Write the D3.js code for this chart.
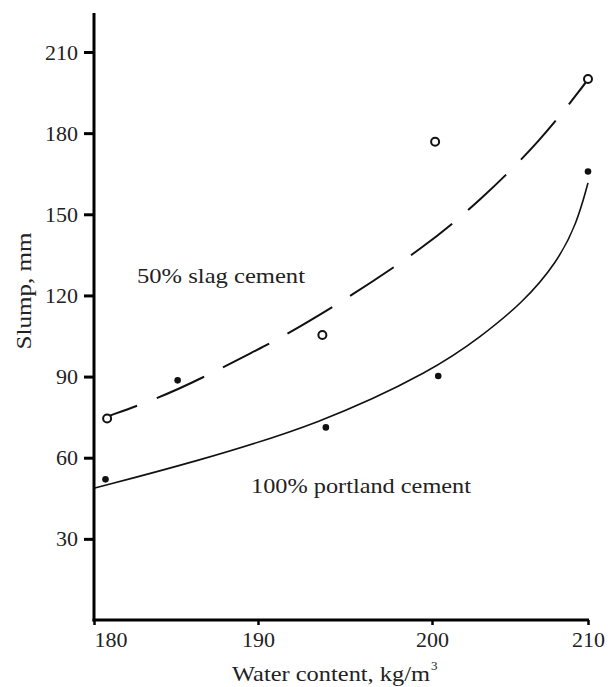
<!DOCTYPE html>
<html>
<head>
<meta charset="utf-8">
<script src="https://cdn.jsdelivr.net/npm/d3@7"></script>
<style>
  body { margin: 0; background: #fff; }
  svg { display: block; }
  text { font-family: "Liberation Serif", "Times New Roman", serif; fill: #222; }
</style>
</head>
<body>
<svg id="chart" width="608" height="687"></svg>
<script>
// tick labels
var xTicks = [180, 190, 200, 210];
var yTicks = [30, 60, 90, 120, 150, 180, 210];

// measured points, [water content, slump]
var slagOpen = [[180.8, 74.5], [193.7, 105.4], [200.2, 176.8], [210, 200]];
var slagFilled = [[185.1, 88.6]];
var portland = [[180.7, 52], [193.9, 71.2], [200.4, 90.2], [210, 165.8]];

// fitted curves
var slagCurve = [[180.8, 75.2], [183.8, 81.7], [186.5, 89.1], [189.9, 99.8], [191.2, 103.9],
                 [194.9, 117.9], [199.6, 137.9], [203.2, 155.6], [207.0, 177.4], [209.8, 198.2], [210, 200]];
var portlandCurve = [[180.05, 48.8], [186, 58.2], [193.6, 72.5], [200.1, 92.4],
                     [203.1, 104.6], [205.8, 117.2], [208.0, 132.0],
                     [209.3, 146.8], [210, 161.6]];

var svg = d3.select('#chart');

// the scanned figure is not evenly spaced, so the x scale is piecewise
var x = d3.scaleLinear().domain(xTicks).range([94, 258, 432, 588]);
var y = d3.scaleLinear().domain([0, 210]).range([620, 52]);

var line = d3.line()
  .x(function(d) { return x(d[0]); })
  .y(function(d) { return y(d[1]); })
  .curve(d3.curveBasis);

svg.append('path')
  .datum(portlandCurve)
  .attr('d', line)
  .attr('fill', 'none')
  .attr('stroke', '#111')
  .attr('stroke-width', 1.6);

svg.append('path')
  .datum(slagCurve)
  .attr('d', line)
  .attr('fill', 'none')
  .attr('stroke', '#111')
  .attr('stroke-width', 2)
  .attr('stroke-dasharray', '52 21')
  .attr('stroke-dashoffset', 20);

// axes
var yAxis = svg.append('g')
  .attr('transform', 'translate(94,0)')
  .call(d3.axisLeft(y).tickValues(yTicks).tickSize(10).tickPadding(6));
yAxis.select('.domain').remove();
yAxis.selectAll('line').attr('stroke', '#000').attr('stroke-width', 3);
yAxis.selectAll('text').attr('font-size', 22).attr('fill', '#222')
  .attr('font-family', '"Liberation Serif", serif');

var xAxis = svg.append('g')
  .attr('transform', 'translate(0,620)')
  .call(d3.axisBottom(x).tickValues(xTicks).tickSize(5).tickPadding(6));
xAxis.select('.domain').remove();
xAxis.selectAll('line').attr('stroke', '#000').attr('stroke-width', 2.5);
xAxis.selectAll('text').attr('font-size', 22).attr('fill', '#222')
  .attr('font-family', '"Liberation Serif", serif')
  .attr('text-anchor', function(d) { return d === 180 ? 'start' : 'middle'; });

svg.append('line')
  .attr('x1', 94).attr('x2', 94).attr('y1', 13).attr('y2', 621.5)
  .attr('stroke', '#000').attr('stroke-width', 3);
svg.append('line')
  .attr('x1', 92.5).attr('x2', 589).attr('y1', 620).attr('y2', 620)
  .attr('stroke', '#000').attr('stroke-width', 3);

// markers
svg.selectAll('circle.open')
  .data(slagOpen)
  .enter().append('circle')
  .attr('class', 'open')
  .attr('cx', function(d) { return x(d[0]); })
  .attr('cy', function(d) { return y(d[1]); })
  .attr('r', 4)
  .attr('fill', '#fff')
  .attr('stroke', '#111')
  .attr('stroke-width', 2);

svg.selectAll('circle.filled')
  .data(portland.concat(slagFilled))
  .enter().append('circle')
  .attr('class', 'filled')
  .attr('cx', function(d) { return x(d[0]); })
  .attr('cy', function(d) { return y(d[1]); })
  .attr('r', 3.3)
  .attr('fill', '#111');

// labels (the scan is a little wider than the type, hence textLength)
svg.append('text')
  .attr('x', 137).attr('y', 283)
  .attr('font-size', 22)
  .attr('textLength', 168).attr('lengthAdjust', 'spacingAndGlyphs')
  .text('50% slag cement');

svg.append('text')
  .attr('x', 251).attr('y', 493)
  .attr('font-size', 22)
  .attr('textLength', 220).attr('lengthAdjust', 'spacingAndGlyphs')
  .text('100% portland cement');

svg.append('text')
  .attr('x', 232).attr('y', 681)
  .attr('font-size', 22)
  .attr('textLength', 198).attr('lengthAdjust', 'spacingAndGlyphs')
  .text('Water content, kg/m');
svg.append('text')
  .attr('x', 431).attr('y', 670)
  .attr('font-size', 13)
  .text('3');

svg.append('text')
  .attr('transform', 'translate(31,291) rotate(-90)')
  .attr('text-anchor', 'middle')
  .attr('font-size', 22)
  .attr('textLength', 117).attr('lengthAdjust', 'spacingAndGlyphs')
  .text('Slump, mm');
</script>
</body>
</html>
